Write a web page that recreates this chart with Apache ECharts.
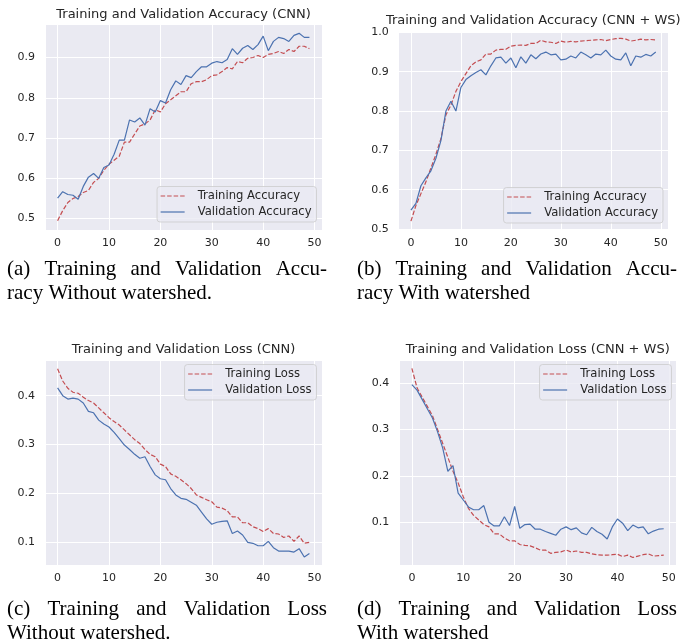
<!DOCTYPE html>
<html>
<head>
<meta charset="utf-8">
<script src="https://cdn.jsdelivr.net/npm/echarts@6/dist/echarts.min.js"></script>
<style>
html,body{margin:0;padding:0;background:#fff;}
#chart{width:694px;height:644px;}
</style>
</head>
<body>
<div id="chart"></div>
<script>
// ---------------- DATA ----------------
const titles = [
  'Training and Validation Accuracy (CNN)',
  'Training and Validation Accuracy (CNN + WS)',
  'Training and Validation Loss (CNN)',
  'Training and Validation Loss (CNN + WS)'
];
const xTicks = [0, 10, 20, 30, 40, 50];

const trainAccCNN = [0.495,0.52,0.54,0.55,0.555,0.565,0.57,0.59,0.60,0.62,0.635,0.645,0.655,0.69,0.69,0.71,0.73,0.735,0.745,0.77,0.765,0.785,0.795,0.805,0.815,0.815,0.835,0.84,0.84,0.845,0.855,0.857,0.865,0.875,0.872,0.89,0.887,0.898,0.90,0.905,0.90,0.908,0.91,0.915,0.91,0.92,0.915,0.928,0.928,0.922];
const valAccCNN = [0.551,0.567,0.56,0.558,0.548,0.58,0.603,0.612,0.60,0.627,0.633,0.66,0.695,0.695,0.745,0.74,0.75,0.732,0.773,0.765,0.793,0.787,0.82,0.842,0.833,0.855,0.85,0.865,0.877,0.877,0.886,0.89,0.887,0.895,0.922,0.908,0.923,0.93,0.92,0.932,0.953,0.917,0.94,0.95,0.947,0.94,0.955,0.96,0.95,0.95];

const trainAccWS = [0.52,0.56,0.59,0.62,0.655,0.69,0.73,0.79,0.815,0.85,0.875,0.895,0.915,0.925,0.93,0.945,0.945,0.955,0.957,0.957,0.965,0.967,0.968,0.967,0.972,0.972,0.98,0.976,0.975,0.972,0.978,0.975,0.977,0.976,0.978,0.979,0.98,0.981,0.982,0.979,0.982,0.984,0.985,0.983,0.978,0.98,0.983,0.981,0.982,0.981];
const valAccWS = [0.548,0.565,0.61,0.63,0.648,0.68,0.725,0.80,0.825,0.80,0.86,0.88,0.89,0.898,0.905,0.892,0.915,0.935,0.937,0.922,0.935,0.91,0.938,0.922,0.943,0.933,0.945,0.95,0.943,0.945,0.93,0.932,0.94,0.935,0.95,0.943,0.935,0.945,0.943,0.955,0.94,0.932,0.93,0.948,0.915,0.94,0.937,0.944,0.94,0.95];

const trainLossCNN = [0.455,0.43,0.415,0.407,0.405,0.397,0.39,0.385,0.375,0.365,0.355,0.347,0.34,0.33,0.32,0.31,0.302,0.29,0.28,0.275,0.26,0.255,0.24,0.235,0.228,0.22,0.21,0.197,0.192,0.187,0.183,0.172,0.17,0.165,0.152,0.152,0.14,0.14,0.132,0.128,0.122,0.128,0.118,0.117,0.11,0.113,0.102,0.113,0.098,0.1];
const valLossCNN = [0.416,0.4,0.393,0.395,0.393,0.385,0.368,0.365,0.35,0.342,0.336,0.325,0.312,0.299,0.29,0.28,0.272,0.275,0.255,0.238,0.23,0.228,0.21,0.197,0.19,0.188,0.182,0.176,0.162,0.148,0.137,0.141,0.143,0.144,0.118,0.123,0.115,0.1,0.098,0.093,0.093,0.102,0.089,0.082,0.082,0.082,0.08,0.087,0.07,0.077];

const trainLossWS = [0.432,0.39,0.37,0.35,0.33,0.30,0.27,0.24,0.21,0.185,0.155,0.13,0.115,0.105,0.095,0.09,0.075,0.075,0.066,0.06,0.06,0.052,0.05,0.049,0.045,0.04,0.04,0.033,0.035,0.036,0.04,0.036,0.038,0.035,0.035,0.032,0.03,0.029,0.029,0.03,0.031,0.026,0.029,0.024,0.027,0.03,0.032,0.027,0.028,0.029];
const valLossWS = [0.397,0.385,0.365,0.345,0.325,0.295,0.26,0.21,0.222,0.163,0.148,0.133,0.127,0.127,0.136,0.1,0.092,0.092,0.112,0.093,0.134,0.087,0.095,0.096,0.085,0.085,0.08,0.076,0.072,0.085,0.09,0.084,0.088,0.077,0.073,0.089,0.08,0.074,0.064,0.09,0.107,0.098,0.082,0.094,0.088,0.09,0.075,0.081,0.085,0.086];

const accNames = ['Training Accuracy', 'Validation Accuracy'];
const lossNames = ['Training Loss', 'Validation Loss'];

const captions = [
  ['(a) Training and Validation Accu-', 'racy Without watershed.'],
  ['(b) Training and Validation Accu-', 'racy With watershed'],
  ['(c) Training and Validation Loss', 'Without watershed.'],
  ['(d) Training and Validation Loss', 'With watershed']
];

// ---------------- LAYOUT ----------------
const panels = [
  {left:45,    top:24,   width:277, height:206, ymin:0.4718, ymax:0.9832, titleTop:8,   titleX:183.5, legendTop:186.5, legendRight:377.5,
   names:accNames, series:[trainAccCNN, valAccCNN]},
  {left:398.7, top:31.7, width:269.3, height:198.3, ymin:0.4975, ymax:1.0018, titleTop:14, titleX:533.3, legendTop:187.5, legendRight:31,
   names:accNames, series:[trainAccWS, valAccWS]},
  {left:45,    top:360,  width:277, height:205, ymin:0.0536, ymax:0.473, titleTop:343,  titleX:183.5, legendTop:364.5, legendRight:377.5,
   names:lossNames, series:[trainLossCNN, valLossCNN]},
  {left:399.3, top:360,  width:277, height:205, ymin:0.0078, ymax:0.450, titleTop:343,  titleX:537.8, legendTop:364.5, legendRight:22.5,
   names:lossNames, series:[trainLossWS, valLossWS]}
];

const RED = '#C44E52', BLUE = '#4C72B0', TXT = '#262626', BG = '#EAEAF2';
const tickFont = {fontFamily:'DejaVu Sans', fontSize:11, color:TXT};
const lineStyles = [
  {color:RED, width:1.2, type:[4.5,2]},
  {color:BLUE, width:1.2, type:'solid'}
];

function isMult(v, step){ const r = v/step; return Math.abs(r - Math.round(r)) < 1e-6; }

const option = {
  animation:false,
  backgroundColor:'#ffffff',
  title:[], grid:[], xAxis:[], yAxis:[], legend:[], series:[], graphic:[]
};

panels.forEach((p, k) => {
  const ids = p.names.map((n, j) => n + '#' + k);
  option.title.push({
    text: titles[k], left: p.titleX, top: p.titleTop, textAlign:'center', padding:0,
    textStyle:{fontFamily:'DejaVu Sans', fontSize:13, fontWeight:'normal', color:TXT}
  });
  option.grid.push({left:p.left, top:p.top, width:p.width, height:p.height, show:true, backgroundColor:BG, borderWidth:0, containLabel:false});
  option.xAxis.push({
    type:'value', gridIndex:k, min:-2.45, max:51.45, splitNumber:5,
    axisLine:{show:false}, axisTick:{show:false},
    splitLine:{show:true, lineStyle:{color:'#ffffff', width:1}},
    axisLabel:Object.assign({margin:8, formatter:v => (isMult(v,10) && xTicks.includes(Math.round(v))) ? String(Math.round(v)) : ''}, tickFont)
  });
  option.yAxis.push({
    type:'value', gridIndex:k, min:p.ymin, max:p.ymax, splitNumber:5,
    axisLine:{show:false}, axisTick:{show:false},
    splitLine:{show:true, lineStyle:{color:'#ffffff', width:1}},
    axisLabel:Object.assign({margin:10, formatter:v => isMult(v,0.1) ? v.toFixed(1) : ''}, tickFont)
  });
  option.legend.push({
    data:ids.map((id, j) => ({
      name:id,
      itemStyle:{color:'rgba(0,0,0,0)', borderWidth:0, opacity:0},
      lineStyle:Object.assign({}, lineStyles[j])
    })),
    formatter: name => name.split('#')[0],
    orient:'vertical', right:p.legendRight, top:p.legendTop,
    itemWidth:24, itemHeight:13, itemGap:4, padding:[3.5,5,4,3],
    backgroundColor:'rgba(234,234,242,0.8)', borderColor:'rgba(204,204,204,0.8)', borderWidth:1, borderRadius:3,
    textStyle:{fontFamily:'DejaVu Sans', fontSize:11.6, color:TXT, padding:[0,0,0,8]},
    selectedMode:false
  });
  p.series.forEach((arr, j) => {
    option.series.push({
      type:'line', name:ids[j], xAxisIndex:k, yAxisIndex:k,
      data: arr.map((v,i) => [i, v]),
      symbol:'none', showSymbol:false, silent:true,
      lineStyle: Object.assign({}, lineStyles[j]),
      itemStyle:{color: j === 0 ? RED : BLUE}
    });
  });
});

// ---------------- CAPTIONS (justified first line) ----------------
const capFontSize = 21, capFamily = 'Liberation Serif';
const mctx = document.createElement('canvas').getContext('2d');
mctx.font = capFontSize + 'px "' + capFamily + '"';
const capBoxes = [
  {x0:7,   x1:327, y1:269, y2:293},
  {x0:357, x1:677, y1:269, y2:293},
  {x0:7,   x1:327, y1:609, y2:633},
  {x0:357, x1:677, y1:609, y2:633}
];
function textEl(str, x, y){
  return {type:'text', x:x, y:y, silent:true,
    style:{text:str, fill:'#000', font: capFontSize + 'px "' + capFamily + '"', textVerticalAlign:'middle', textAlign:'left'}};
}
captions.forEach((lines, k) => {
  const b = capBoxes[k];
  const words = lines[0].split(' ');
  const ws = words.map(w => mctx.measureText(w).width);
  const total = ws.reduce((a,c)=>a+c,0);
  const gap = (b.x1 - b.x0 - total) / (words.length - 1);
  let x = b.x0;
  words.forEach((w, i) => { option.graphic.push(textEl(w, x, b.y1)); x += ws[i] + gap; });
  option.graphic.push(textEl(lines[1], b.x0, b.y2));
});

const chart = echarts.init(document.getElementById('chart'), null, {renderer:'canvas'});
chart.setOption(option);
</script>
</body>
</html>
